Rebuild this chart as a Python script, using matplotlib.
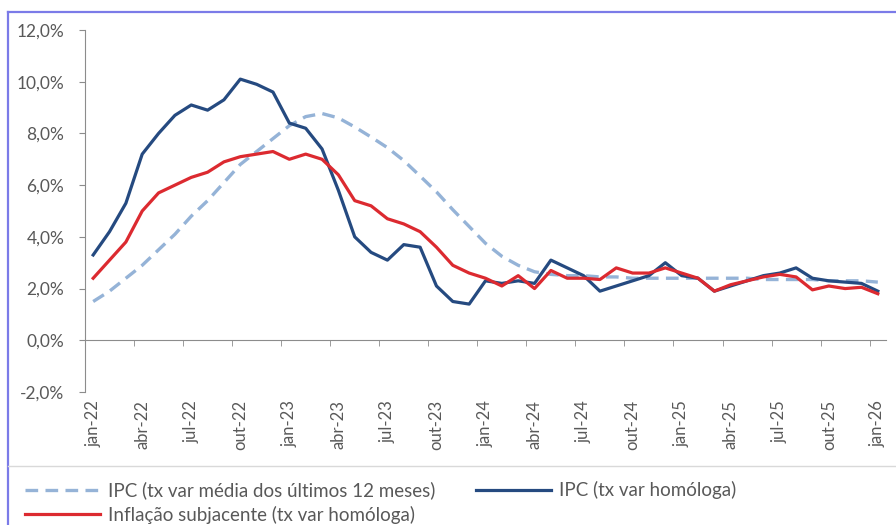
import matplotlib
matplotlib.use("Agg")
import matplotlib.pyplot as plt
from matplotlib.lines import Line2D
from matplotlib.ticker import FuncFormatter

plt.rcParams['font.family'] = ['Lato', 'DejaVu Sans']

# meses jan-22 ... jan-26
meses = ["jan", "fev", "mar", "abr", "mai", "jun", "jul", "ago", "set", "out", "nov", "dez"]
rotulos = []
for ano in ["22", "23", "24", "25"]:
    for m in meses:
        rotulos.append(f"{m}-{ano}")
rotulos.append("jan-26")

# IPC (tx var média dos últimos 12 meses)
ipc_media12 = [1.5, 1.9, 2.4, 2.9, 3.5, 4.1, 4.8, 5.4, 6.1, 6.8, 7.3, 7.8,
               8.3, 8.65, 8.77, 8.6, 8.25, 7.86, 7.45, 6.95, 6.35, 5.74, 5.05, 4.4,
               3.75, 3.25, 2.9, 2.65, 2.55, 2.5, 2.5, 2.45, 2.45, 2.4, 2.4, 2.4,
               2.4, 2.4, 2.4, 2.4, 2.4, 2.35, 2.35, 2.35, 2.35, 2.3, 2.3, 2.3, 2.25]

# IPC (tx var homóloga)
ipc_homologa = [3.3, 4.2, 5.3, 7.2, 8.0, 8.7, 9.1, 8.9, 9.3, 10.1, 9.9, 9.6,
                8.4, 8.2, 7.4, 5.8, 4.0, 3.4, 3.1, 3.7, 3.6, 2.1, 1.5, 1.4,
                2.3, 2.2, 2.3, 2.2, 3.1, 2.8, 2.5, 1.9, 2.1, 2.3, 2.5, 3.0,
                2.5, 2.4, 1.9, 2.1, 2.3, 2.5, 2.6, 2.8, 2.4, 2.3, 2.25, 2.2, 1.9]

# Inflação subjacente (tx var homóloga)
subjacente = [2.4, 3.1, 3.8, 5.0, 5.7, 6.0, 6.3, 6.5, 6.9, 7.1, 7.2, 7.3,
              7.0, 7.2, 7.0, 6.4, 5.4, 5.2, 4.7, 4.5, 4.2, 3.6, 2.9, 2.6,
              2.4, 2.1, 2.5, 2.0, 2.7, 2.4, 2.4, 2.35, 2.8, 2.6, 2.6, 2.8,
              2.6, 2.4, 1.9, 2.15, 2.3, 2.45, 2.55, 2.45, 1.95, 2.1, 2.0, 2.05, 1.8]

x = list(range(len(rotulos)))
cinza = "#595959"
eixo = "#8C8C8C"

fig = plt.figure(figsize=(8.96, 5.25), dpi=100)
ax = fig.add_axes([85 / 896, 1 - 392 / 525, 801 / 896, 362 / 525])

l1, = ax.plot(x, ipc_media12, color="#95B3D7", lw=2.4, dashes=(3.8, 2.2),
              label="IPC (tx var média dos últimos 12 meses)")
l2, = ax.plot(x, ipc_homologa, color="#254A80", lw=2.3,
              label="IPC (tx var homóloga)")
l3, = ax.plot(x, subjacente, color="#DC2A30", lw=2.3,
              label="Inflação subjacente (tx var homóloga)")

ax.set_xlim(-0.5, len(rotulos) - 0.5)
ax.set_ylim(-2, 12)
ax.set_yticks(range(-2, 13, 2))
ax.yaxis.set_major_formatter(FuncFormatter(lambda v, p: f"{v:.1f}%".replace(".", ",")))

ax.spines["top"].set_visible(False)
ax.spines["right"].set_visible(False)
ax.spines["left"].set_color(eixo)
ax.spines["bottom"].set_color(eixo)
ax.spines["bottom"].set_position(("data", 0))

ax.set_xticks(x[::3])
ax.set_xticklabels(rotulos[::3], rotation=90)
ax.set_xticks([i - 0.5 for i in range(3, len(rotulos), 3)], minor=True)
ax.tick_params(axis="x", which="major", length=0, pad=43, labelsize=12, labelcolor=cinza)
ax.tick_params(axis="x", which="minor", length=4, color=eixo, direction="out")
ax.tick_params(axis="y", length=4, color=eixo, pad=11, labelsize=12.5, labelcolor=cinza)

# moldura e separador
fig.add_artist(Line2D([8 / 896, 8 / 896], [0, 1 - 12 / 525], transform=fig.transFigure,
                      color="#7B7BE8", lw=1.6))
fig.add_artist(Line2D([8 / 896, 1], [1 - 12 / 525, 1 - 12 / 525], transform=fig.transFigure,
                      color="#7B7BE8", lw=1.6))
fig.add_artist(Line2D([8 / 896, 1], [1 - 466 / 525, 1 - 466 / 525], transform=fig.transFigure,
                      color="#D9D9D9", lw=1))

fig.legend(handles=[l1, l3, l2], loc="upper left", bbox_to_anchor=(12 / 896, 1 - 468 / 525),
           ncol=2, frameon=False, fontsize=13.5, handlelength=4.0, handletextpad=0.4,
           columnspacing=2.2, labelspacing=0.35, labelcolor=cinza, borderpad=0.2)

fig.savefig("out.png", dpi=100)
